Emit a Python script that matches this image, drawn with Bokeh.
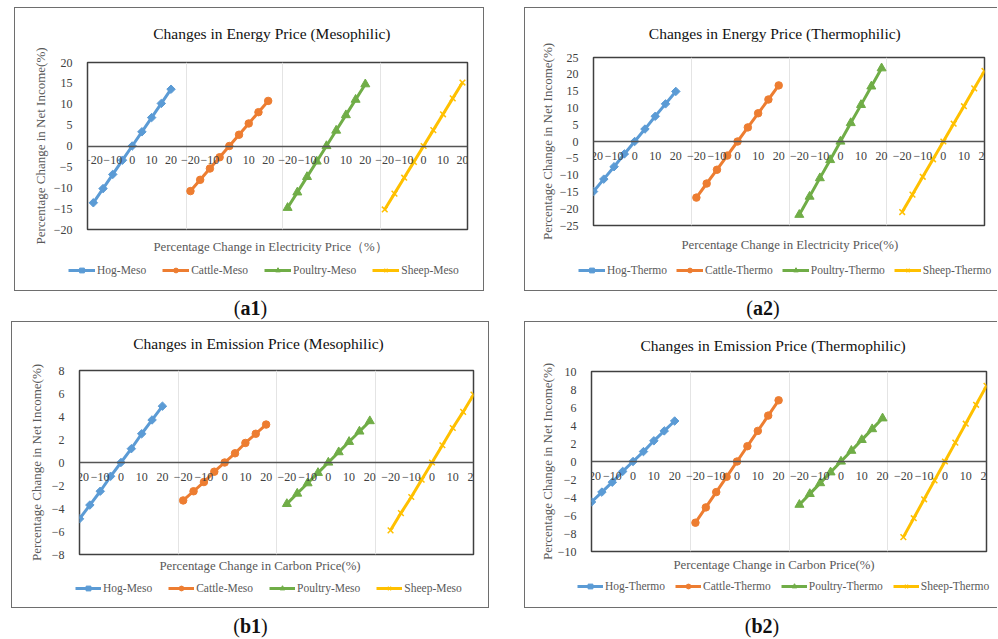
from bokeh.plotting import figure
from bokeh.models import FixedTicker, Title, Legend, LegendItem, Div, Spacer, Range1d, Label
from bokeh.layouts import row, column
from bokeh.embed import file_html
from bokeh.resources import INLINE
import math

# ---------------- data ----------------
X_STEPS = [-20, -15, -10, -5, 0, 5, 10, 15, 20]
X_TICKS = [-20, -10, 0, 10, 20]
SPECIES = ["Hog", "Cattle", "Poultry", "Sheep"]

ENERGY_MESO_HOG = [-13.6, -10.2, -6.8, -3.4, 0.0, 3.4, 6.8, 10.2, 13.6]
ENERGY_MESO_CATTLE = [-10.8, -8.1, -5.4, -2.7, 0.0, 2.7, 5.4, 8.1, 10.8]
ENERGY_MESO_POULTRY = [-14.8, -11.1, -7.4, -3.7, 0.0, 3.7, 7.4, 11.1, 14.8]
ENERGY_MESO_SHEEP = [-15.2, -11.4, -7.6, -3.8, 0.0, 3.8, 7.6, 11.4, 15.2]

ENERGY_THERMO_HOG = [-14.9, -11.2, -7.5, -3.7, 0.0, 3.7, 7.5, 11.2, 14.9]
ENERGY_THERMO_CATTLE = [-16.7, -12.5, -8.4, -4.2, 0.0, 4.2, 8.4, 12.5, 16.7]
ENERGY_THERMO_POULTRY = [-21.8, -16.4, -10.9, -5.5, 0.0, 5.5, 10.9, 16.4, 21.8]
ENERGY_THERMO_SHEEP = [-21.0, -15.8, -10.5, -5.3, 0.0, 5.3, 10.5, 15.8, 21.0]

EMISSION_MESO_HOG = [-4.9, -3.7, -2.5, -1.2, 0.0, 1.2, 2.5, 3.7, 4.9]
EMISSION_MESO_CATTLE = [-3.3, -2.5, -1.7, -0.8, 0.0, 0.8, 1.7, 2.5, 3.3]
EMISSION_MESO_POULTRY = [-3.6, -2.7, -1.8, -0.9, 0.0, 0.9, 1.8, 2.7, 3.6]
EMISSION_MESO_SHEEP = [-5.9, -4.4, -3.0, -1.5, 0.0, 1.5, 3.0, 4.4, 5.9]

EMISSION_THERMO_HOG = [-4.5, -3.4, -2.3, -1.1, 0.0, 1.1, 2.3, 3.4, 4.5]
EMISSION_THERMO_CATTLE = [-6.8, -5.1, -3.4, -1.7, 0.0, 1.7, 3.4, 5.1, 6.8]
EMISSION_THERMO_POULTRY = [-4.8, -3.6, -2.4, -1.2, 0.0, 1.2, 2.4, 3.6, 4.8]
EMISSION_THERMO_SHEEP = [-8.4, -6.3, -4.2, -2.1, 0.0, 2.1, 4.2, 6.3, 8.4]

TITLES = ["Changes in Energy Price (Mesophilic)", "Changes in Energy Price (Thermophilic)",
          "Changes in Emission Price (Mesophilic)", "Changes in Emission Price (Thermophilic)"]
XLABELS = ["Percentage Change in Electricity Price\uff08%\uff09", "Percentage Change in Electricity Price(%)",
           "Percentage Change in Carbon Price(%)", "Percentage Change in Carbon Price(%)"]
YLABEL = "Percentage Change in Net Income(%)"
PANEL_TAGS = ["a1", "a2", "b1", "b2"]

COLORS = ["#5B9BD5", "#ED7D31", "#70AD47", "#FFC000"]
SERIF = "Liberation Serif"
SEG = 50  # offset between the four sub-axes


def fmt(v):
    return ("\u2212" + str(abs(v))) if v < 0 else str(v)


def blank_fig(W, H, xr, yr):
    f = figure(width=W, height=H, x_range=Range1d(*xr), y_range=Range1d(*yr),
               x_axis_type=None, y_axis_type=None, output_backend="svg", toolbar_location=None,
               min_border=0, min_border_left=0, min_border_right=0, min_border_top=0, min_border_bottom=0,
               outline_line_color=None, background_fill_color="white", border_fill_color="white",
               frame_align=False)
    return f


def draw_series(p, series):
    out = []
    markers = ["square", "circle", "triangle", "x"]
    for k, vals in enumerate(series):
        xs = [SEG * k + x for x in X_STEPS]
        c = COLORS[k]
        lr = p.line(xs, vals, line_color=c, line_width=3)
        if markers[k] == "square":
            sr = p.scatter(xs, vals, marker="square", angle=math.pi / 4, size=6, fill_color=c, line_color=c)
        elif markers[k] == "circle":
            sr = p.scatter(xs, vals, marker="circle", size=7.5, fill_color=c, line_color=c)
        elif markers[k] == "triangle":
            sr = p.scatter(xs, vals, marker="triangle", size=9, fill_color=c, line_color=c)
        else:
            sr = p.scatter(xs, vals, marker="x", size=8, line_color=c, line_width=1.5)
        out.append((lr, sr))
    return out


def panel(title, xlabel, series, suffix, ylim, ystep, xr, seps, W, H0, H1, H2, mb,
          ylab_standoff, title_xy, xl_standoff, xl_offset, leg_loc, leg_glyph, leg_spacing, right_open):
    # --- title strip ---
    top = blank_fig(W, H0, (0, W), (0, H0))
    top.add_layout(Label(x=title_xy[0], y=title_xy[1], text=title, text_font=SERIF,
                         text_font_size="15.5px", text_color="#111111", text_baseline="middle",
                         text_align="left"))

    # --- plot area ---
    p = figure(width=W, height=H1, x_range=Range1d(*xr), y_range=Range1d(-ylim, ylim),
               output_backend="svg", toolbar_location=None,
               min_border_left=mb[0], min_border_right=mb[1], min_border_top=mb[2], min_border_bottom=mb[3],
               background_fill_color="white", border_fill_color="white",
               outline_line_color="#404040", outline_line_width=1.5, frame_align=False)

    yt = list(range(-ylim, ylim + 1, ystep))
    p.yaxis.ticker = FixedTicker(ticks=yt)
    p.yaxis.major_label_overrides = {t: fmt(t) for t in yt}
    p.yaxis.axis_label = YLABEL
    p.yaxis.axis_label_text_font = SERIF
    p.yaxis.axis_label_text_font_size = "13px"
    p.yaxis.axis_label_text_font_style = "normal"
    p.yaxis.axis_label_text_color = "#595959"
    p.yaxis.axis_label_standoff = ylab_standoff
    p.yaxis.major_label_text_font = SERIF
    p.yaxis.major_label_text_font_size = "12px"
    p.yaxis.major_label_text_color = "#404040"
    p.yaxis.major_label_standoff = 9
    p.yaxis.axis_line_color = None
    p.yaxis.major_tick_line_color = None
    p.yaxis.minor_tick_line_color = None

    xt, xlab = [], {}
    for k in range(4):
        for t in X_TICKS:
            xt.append(SEG * k + t)
            xlab[SEG * k + t] = fmt(t)
    p.xaxis.fixed_location = 0
    p.xaxis.ticker = FixedTicker(ticks=xt)
    p.xaxis.major_label_overrides = xlab
    p.xaxis.major_label_text_font = SERIF
    p.xaxis.major_label_text_font_size = "12px"
    p.xaxis.major_label_text_color = "#404040"
    p.xaxis.major_label_standoff = 4
    p.xaxis.axis_line_color = "#555555"
    p.xaxis.axis_line_width = 1.5
    p.xaxis.major_tick_line_color = None
    p.xaxis.minor_tick_line_color = None

    p.xgrid.ticker = FixedTicker(ticks=seps)
    p.xgrid.grid_line_color = "#e4e4e4"
    p.ygrid.grid_line_color = None

    draw_series(p, series)

    p.add_layout(Title(text=xlabel, align="left", offset=xl_offset, standoff=xl_standoff,
                       text_font=SERIF, text_font_size="12.8px", text_font_style="normal",
                       text_color="#595959"), "below")

    # --- legend strip (series drawn again out of view so the legend can refer to them) ---
    bot = blank_fig(W, H2, (-100000, -100000 + W), (0, H2))
    rs = draw_series(bot, series)
    items = [LegendItem(label=f"{SPECIES[k]}-{suffix}", renderers=[lr, sr]) for k, (lr, sr) in enumerate(rs)]
    leg = Legend(items=items, orientation="horizontal", location=leg_loc,
                 label_text_font=SERIF, label_text_font_size="11.5px", label_text_color="#595959",
                 glyph_width=leg_glyph, glyph_height=12, label_height=12, label_standoff=2,
                 spacing=leg_spacing, padding=0, margin=0, border_line_color=None,
                 background_fill_alpha=0)
    bot.add_layout(leg)

    border = {"border": "1px solid #6e6e6e"}
    if right_open:
        border["border-right"] = "none"
    return column(top, p, bot, styles=border)


pa1 = panel(TITLES[0], XLABELS[0],
            [ENERGY_MESO_HOG, ENERGY_MESO_CATTLE, ENERGY_MESO_POULTRY, ENERGY_MESO_SHEEP], "Meso",
            20, 5, (-23, 172.6), [27.8, 77.5, 127.7], 468, 36, 220, 26, (72, 16, 18, 35),
            3, (137.7, 11), 17, 66, (53, 14), 27, 16, False)
pa2 = panel(TITLES[1], XLABELS[1],
            [ENERGY_THERMO_HOG, ENERGY_THERMO_CATTLE, ENERGY_THERMO_POULTRY, ENERGY_THERMO_SHEEP], "Thermo",
            25, 5, (-20, 170), [27.5, 75, 122.5], 472, 34, 222, 26, (68, 13, 15, 39),
            2, (123.3, 8.7), 21, 88, (53, 14), 27, 9, True)
pb1 = panel(TITLES[2], XLABELS[2],
            [EMISSION_MESO_HOG, EMISSION_MESO_CATTLE, EMISSION_MESO_POULTRY, EMISSION_MESO_SHEEP], "Meso",
            8, 2, (-20, 170), [27.5, 75, 122.5], 476, 33, 222, 30, (67, 15, 15, 23),
            5, (120.7, 12), 5, 80, (63, 13), 26, 16, False)
pb2 = panel(TITLES[3], XLABELS[3],
            [EMISSION_THERMO_HOG, EMISSION_THERMO_CATTLE, EMISSION_THERMO_POULTRY, EMISSION_THERMO_SHEEP], "Thermo",
            10, 2, (-20, 170), [27.5, 75, 122.5], 472, 34, 221, 30, (66, 11, 15, 26),
            0, (115, 10.7), 8, 82, (52, 15), 26, 10, True)


def tag(t, w, h, lh):
    return Div(text=f"(<b>{t}</b>)", width=w, height=h, margin=0,
               styles={"text-align": "center", "font-family": "'Liberation Serif', serif",
                       "font-size": "20px", "line-height": f"{lh}px", "color": "#111",
                       "overflow": "hidden"})


layout = column(
    Spacer(width=10, height=7),
    row(Spacer(width=14, height=282), pa1, Spacer(width=40, height=282), pa2),
    row(tag(PANEL_TAGS[0], 501, 30, 35), Spacer(width=29, height=30), tag(PANEL_TAGS[1], 466, 30, 35)),
    row(Spacer(width=11, height=285), pb1, Spacer(width=35, height=285), pb2),
    row(tag(PANEL_TAGS[2], 501, 30, 37), Spacer(width=29, height=30), tag(PANEL_TAGS[3], 464, 30, 37)),
)

open("out.html", "w").write(file_html(layout, INLINE))
